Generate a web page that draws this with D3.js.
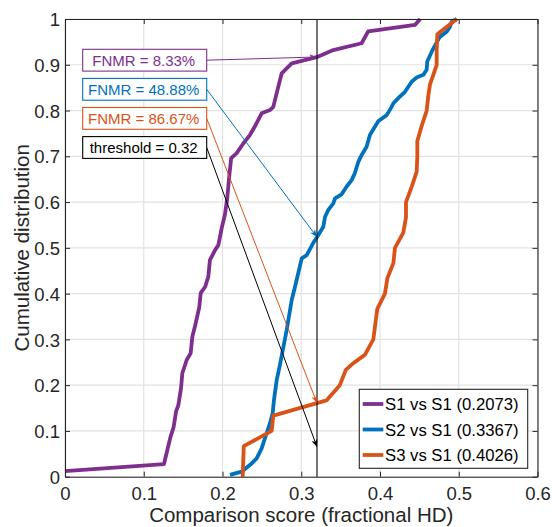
<!DOCTYPE html>
<html>
<head>
<meta charset="utf-8">
<script src="https://cdn.jsdelivr.net/npm/d3@7"></script>
<style>
  body { margin: 0; background: #fff; }
  svg { display: block; }
  text { font-family: "Liberation Sans", Arial, Helvetica, sans-serif; }
</style>
</head>
<body>
<svg id="chart" width="552" height="527"></svg>
<script>
// Axis ticks
const xTicks = [0, 0.1, 0.2, 0.3, 0.4, 0.5, 0.6];
const yTicks = [0, 0.1, 0.2, 0.3, 0.4, 0.5, 0.6, 0.7, 0.8, 0.9, 1];

// Series names shown in the legend (mean score in brackets)
const seriesNames = ["S1 vs S1 (0.2073)", "S2 vs S1 (0.3367)", "S3 vs S1 (0.4026)"];

// Empirical cumulative distributions of the comparison scores
const s1Score = [0, 0.1257, 0.131, 0.134, 0.138, 0.141, 0.144, 0.1473, 0.149, 0.1545, 0.1596, 0.1617, 0.165, 0.1706, 0.1723, 0.178, 0.182, 0.184, 0.1905, 0.1947, 0.199, 0.203, 0.206, 0.2087, 0.211, 0.218, 0.2264, 0.235, 0.241, 0.2497, 0.2603, 0.2645, 0.2688, 0.2751, 0.2879, 0.3196, 0.3407, 0.3767, 0.385, 0.4444, 0.451];
const s1Cdf   = [0.012, 0.0277, 0.066, 0.087, 0.109, 0.142, 0.157, 0.193, 0.226, 0.255, 0.27, 0.306, 0.328, 0.371, 0.401, 0.415, 0.437, 0.473, 0.495, 0.506, 0.543, 0.572, 0.608, 0.659, 0.696, 0.707, 0.728, 0.747, 0.765, 0.794, 0.801, 0.808, 0.838, 0.881, 0.903, 0.9167, 0.932, 0.947, 0.973, 0.987, 1.0];

const s2Score = [0.2095, 0.2243, 0.237, 0.2434, 0.2497, 0.256, 0.2603, 0.2637, 0.2654, 0.2688, 0.2730, 0.2815, 0.2879, 0.2921, 0.3006, 0.3069, 0.3153, 0.3217, 0.328, 0.3302, 0.3344, 0.3407, 0.3429, 0.3513, 0.3577, 0.364, 0.368, 0.3725, 0.3767, 0.383, 0.3873, 0.3937, 0.398, 0.4085, 0.4148, 0.417, 0.4232, 0.4317, 0.4402, 0.4465, 0.455, 0.4593, 0.46, 0.4656, 0.47, 0.476, 0.4847, 0.4889, 0.491, 0.4975];
const s2Cdf   = [0.004, 0.011, 0.029, 0.04, 0.062, 0.095, 0.117, 0.1385, 0.168, 0.211, 0.245, 0.3205, 0.386, 0.415, 0.477, 0.484, 0.5111, 0.528, 0.546, 0.568, 0.583, 0.597, 0.608, 0.617, 0.634, 0.648, 0.663, 0.688, 0.703, 0.721, 0.747, 0.765, 0.777, 0.79, 0.808, 0.816, 0.827, 0.841, 0.863, 0.872, 0.878, 0.889, 0.907, 0.928, 0.943, 0.961, 0.972, 0.983, 0.994, 1.0];

const s3Score = [0.2256, 0.2270, 0.2624, 0.2645, 0.332, 0.349, 0.3566, 0.364, 0.381, 0.3915, 0.3966, 0.4063, 0.4093, 0.417, 0.419, 0.4296, 0.433, 0.433, 0.4402, 0.4466, 0.4474, 0.4474, 0.453, 0.4593, 0.4614, 0.4635, 0.4677, 0.472, 0.472, 0.4728, 0.4825, 0.4975];
const s3Cdf   = [0, 0.0667, 0.1, 0.1333, 0.1667, 0.2, 0.2333, 0.245, 0.2667, 0.3, 0.3667, 0.4, 0.4333, 0.4667, 0.5, 0.5333, 0.5667, 0.6, 0.6333, 0.6667, 0.7, 0.7333, 0.7667, 0.8, 0.8333, 0.857, 0.878, 0.9, 0.9333, 0.9667, 0.98, 1.0];

// Decision threshold and annotation texts
const threshold = 0.32;
const fnmrLabels = ["FNMR = 8.33%", "FNMR = 48.88%", "FNMR = 86.67%"];
const thresholdLabel = "threshold = 0.32";
const thresholdArrowCdf = 0.065;

const colors = ["#7E2F8E", "#0072BD", "#D95319"];
const series = [
  { name: seriesNames[0], x: s1Score, y: s1Cdf, color: colors[0] },
  { name: seriesNames[1], x: s2Score, y: s2Cdf, color: colors[1] },
  { name: seriesNames[2], x: s3Score, y: s3Cdf, color: colors[2] }
];

const svg = d3.select("#chart");
const plot = { left: 65, right: 537.5, top: 19, bottom: 476.7 };
const axisColor = "#262626";

const x = d3.scaleLinear().domain([0, 0.6]).range([plot.left, plot.right]);
const y = d3.scaleLinear().domain([0, 1]).range([plot.bottom, plot.top]);

// Grid
const grid = svg.append("g");
grid.selectAll("line.gx").data(xTicks).join("line")
  .attr("x1", d => x(d)).attr("x2", d => x(d))
  .attr("y1", plot.top).attr("y2", plot.bottom)
  .attr("stroke", "#e2e2e2").attr("stroke-width", 1.2);
grid.selectAll("line.gy").data(yTicks).join("line")
  .attr("x1", plot.left).attr("x2", plot.right)
  .attr("y1", d => y(d)).attr("y2", d => y(d))
  .attr("stroke", "#e2e2e2").attr("stroke-width", 1.2);

// Curves
const line = d3.line().x(d => x(d[0])).y(d => y(d[1]));
svg.append("g").selectAll("path").data(series).join("path")
  .attr("d", s => line(s.x.map((v, i) => [v, s.y[i]])))
  .attr("fill", "none")
  .attr("stroke", s => s.color)
  .attr("stroke-width", 3.8)
  .attr("stroke-linejoin", "round");

// Threshold line
svg.append("line")
  .attr("x1", x(threshold)).attr("x2", x(threshold))
  .attr("y1", y(0)).attr("y2", y(1))
  .attr("stroke", "#000").attr("stroke-width", 1.1);

// Axes (box with inward ticks)
const gx = svg.append("g").attr("transform", `translate(0,${plot.bottom})`)
  .call(d3.axisBottom(x).tickValues(xTicks).tickFormat(d => d3.format("")(+d.toFixed(1))).tickSizeInner(-5).tickSizeOuter(0).tickPadding(10));
const gy = svg.append("g").attr("transform", `translate(${plot.left},0)`)
  .call(d3.axisLeft(y).tickValues(yTicks).tickFormat(d => d3.format("")(+d.toFixed(1))).tickSizeInner(-5).tickSizeOuter(0).tickPadding(5));
const gxt = svg.append("g").attr("transform", `translate(0,${plot.top})`)
  .call(d3.axisTop(x).tickValues(xTicks).tickFormat("").tickSizeInner(-5).tickSizeOuter(0));
const gyr = svg.append("g").attr("transform", `translate(${plot.right},0)`)
  .call(d3.axisRight(y).tickValues(yTicks).tickFormat("").tickSizeInner(-5).tickSizeOuter(0));
[gx, gy, gxt, gyr].forEach(g => {
  g.select(".domain").attr("stroke", axisColor).attr("stroke-width", 1.1);
  g.selectAll(".tick line").attr("stroke", axisColor).attr("stroke-width", 1);
  g.selectAll(".tick text").attr("fill", axisColor).style("font-size", "18.5px")
    .style("font-family", '"Liberation Sans", Arial, sans-serif');
});
gx.selectAll(".tick text").attr("dy", "0.71em");
gy.selectAll(".tick text").attr("dy", "0.36em");

// Axis labels
svg.append("text")
  .attr("x", (plot.left + plot.right) / 2).attr("y", 522)
  .attr("text-anchor", "middle").attr("fill", axisColor)
  .style("font-size", "20.5px")
  .text("Comparison score (fractional HD)");
svg.append("text")
  .attr("transform", `translate(28.5,${(plot.top + plot.bottom) / 2}) rotate(-90)`)
  .attr("text-anchor", "middle").attr("fill", axisColor)
  .style("font-size", "20.5px")
  .text("Cumulative distribution");

// Annotation arrows and text boxes
function cdfAt(s, v) {
  for (let i = 1; i < s.x.length; i++) {
    if (s.x[i] >= v) {
      const t = (v - s.x[i - 1]) / (s.x[i] - s.x[i - 1]);
      return s.y[i - 1] + t * (s.y[i] - s.y[i - 1]);
    }
  }
  return s.y[s.y.length - 1];
}

const notes = fnmrLabels.map((t, i) => ({ text: t, color: colors[i], target: cdfAt(series[i], threshold) }));
notes.push({ text: thresholdLabel, color: "#000", target: thresholdArrowCdf });

const ann = svg.append("g");
const boxLeft = 82.7, boxW = 124, boxH = 21.8;
notes.forEach((n, i) => {
  const top = 49.3 + i * 29.1;
  const sx = boxLeft + boxW, sy = top + boxH / 2;
  const tx = x(threshold), ty = y(n.target);
  const ang = Math.atan2(ty - sy, tx - sx);
  const L = 7.5, W = 3, N = 5.5;
  const ca = Math.cos(ang), sa = Math.sin(ang);
  const bx = tx - L * ca, by = ty - L * sa;
  const nx = tx - N * ca, ny = ty - N * sa;
  ann.append("line")
    .attr("x1", sx).attr("y1", sy).attr("x2", nx).attr("y2", ny)
    .attr("stroke", n.color).attr("stroke-width", 1);
  ann.append("path")
    .attr("d", `M${tx},${ty} L${bx - W * sa},${by + W * ca} L${nx},${ny} L${bx + W * sa},${by - W * ca} Z`)
    .attr("fill", n.color);
  ann.append("rect")
    .attr("x", boxLeft).attr("y", top).attr("width", boxW).attr("height", boxH)
    .attr("fill", "#fff").attr("stroke", n.color).attr("stroke-width", 1.1);
  ann.append("text")
    .attr("x", boxLeft + boxW / 2 - 1).attr("y", top + boxH / 2 + 5.3)
    .attr("text-anchor", "middle").attr("fill", n.color)
    .style("font-size", "15px")
    .text(n.text);
});

// Legend
const lg = svg.append("g");
lg.append("rect")
  .attr("x", 359.3).attr("y", 389.3).attr("width", 168.4).attr("height", 79)
  .attr("fill", "#fff").attr("stroke", axisColor).attr("stroke-width", 1.1);
series.forEach((s, i) => {
  const cy = 404 + i * 25.5;
  lg.append("line")
    .attr("x1", 362.7).attr("x2", 383.3).attr("y1", cy).attr("y2", cy)
    .attr("stroke", s.color).attr("stroke-width", 3.8);
  lg.append("text")
    .attr("x", 385).attr("y", cy + 6)
    .attr("fill", "#000").style("font-size", "16.7px")
    .text(s.name);
});
</script>
</body>
</html>
